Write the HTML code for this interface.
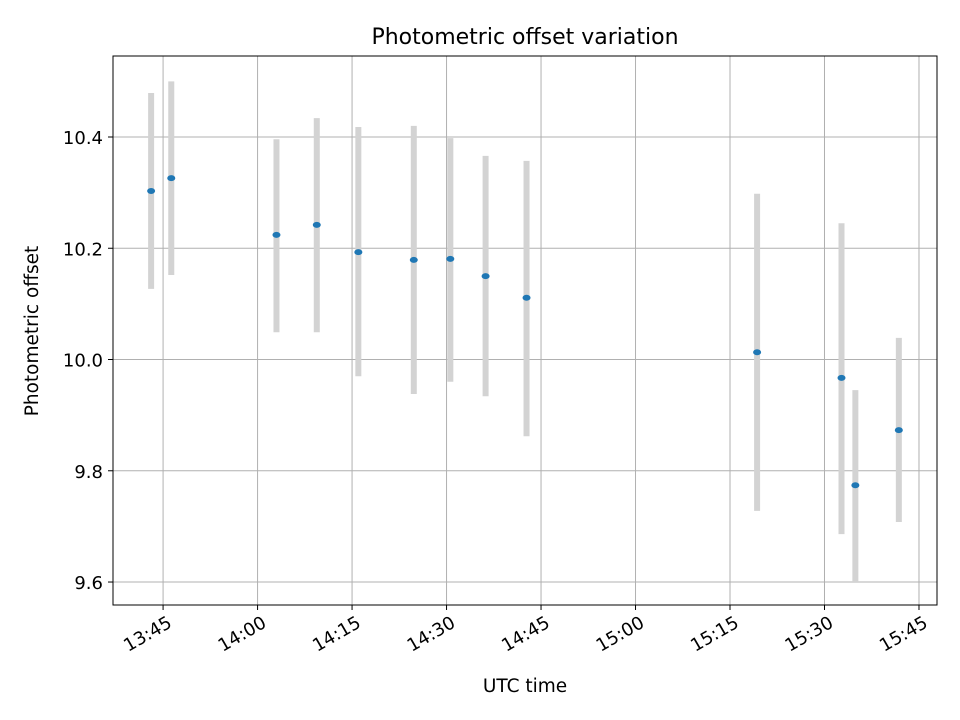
<!DOCTYPE html>
<html><head><meta charset="utf-8"><style>
body{margin:0;background:#fff;}
svg{display:block;font-family:"DejaVu Sans","Liberation Sans",sans-serif;}
</style></head><body>
<svg id="chart" width="960" height="720" viewBox="0 0 960 720">
<rect width="960" height="720" fill="#fff"/>
<text x="525" y="44" text-anchor="middle" font-size="22">Photometric offset variation</text>
<text x="525" y="692" text-anchor="middle" font-size="18.5">UTC time</text>
<text transform="translate(38,331) rotate(-90)" text-anchor="middle" font-size="18.5">Photometric offset</text>
<g id="grid"></g><g id="bars"></g><g id="pts"></g><g id="ticks"></g>
<rect x="113" y="56" width="824" height="549" fill="none" stroke="#000" stroke-width="1"/>
</svg>
<script>
// times in minutes of day
const times = [823.1, 826.3, 843.0, 849.4, 856.0, 864.8, 870.6, 876.2, 882.7, 919.3, 932.7, 934.9, 941.8];
const offsets = [10.303, 10.326, 10.224, 10.242, 10.193, 10.179, 10.181, 10.150, 10.111, 10.013, 9.967, 9.774, 9.873];
const errLow = [10.127, 10.152, 10.049, 10.049, 9.970, 9.938, 9.960, 9.934, 9.862, 9.728, 9.686, 9.600, 9.708];
const errHigh = [10.479, 10.500, 10.396, 10.434, 10.418, 10.420, 10.398, 10.366, 10.357, 10.298, 10.245, 9.945, 10.039];
const xTicks = [825, 840, 855, 870, 885, 900, 915, 930, 945];
const xTickLabels = ["13:45","14:00","14:15","14:30","14:45","15:00","15:15","15:30","15:45"];
const yTicks = [9.6, 9.8, 10.0, 10.2, 10.4];
const yTickLabels = ["9.6","9.8","10.0","10.2","10.4"];

const X0=113,X1=937,Y0=56,Y1=605;
const xMin=817.05,xMax=947.86,yMin=9.5587,yMax=10.5456;
const xs=v=>X0+(v-xMin)/(xMax-xMin)*(X1-X0);
const ys=v=>Y1-(v-yMin)/(yMax-yMin)*(Y1-Y0);
const NS="http://www.w3.org/2000/svg";
function mk(tag,attrs,parent){const e=document.createElementNS(NS,tag);for(const k in attrs)e.setAttribute(k,attrs[k]);document.getElementById(parent).appendChild(e);return e;}

xTicks.forEach((t,i)=>{
  const x=xs(t);
  const g=mk('line',{x1:x,x2:x,y1:Y0,y2:Y1,stroke:'#b0b0b0','stroke-width':1},'grid');
  
  
  const tk=mk('line',{x1:x,x2:x,y1:Y1,y2:Y1+5,stroke:'#000'},'ticks');
  
  
  const ax=x+7, ay=Y1+22;
  const tx=mk('text',{x:ax,y:ay,'text-anchor':'end','font-size':18,transform:`rotate(-30 ${ax} ${ay-6})`},'ticks');
  
  
  tx.textContent=xTickLabels[i];
});
yTicks.forEach((t,i)=>{
  const y=ys(t);
  const g=mk('line',{x1:X0,x2:X1,y1:y,y2:y,stroke:'#b0b0b0','stroke-width':1},'grid');
  
  
  const tk=mk('line',{x1:X0-5,x2:X0,y1:y,y2:y,stroke:'#000'},'ticks');
  
  
  const tx=mk('text',{x:X0-10,y:y+7,'text-anchor':'end','font-size':18},'ticks');
  
  
  tx.textContent=yTickLabels[i];
});
times.forEach((t,i)=>{
  const x=xs(t);
  const b=mk('line',{x1:x,x2:x,y1:ys(errHigh[i]),y2:ys(errLow[i]),stroke:'#d3d3d3','stroke-width':6},'bars');
  
  
  const p=mk('ellipse',{cx:x,cy:ys(offsets[i]),rx:4,ry:3,fill:'#1f77b4'},'pts');
  
  
});
</script>
</body></html>
